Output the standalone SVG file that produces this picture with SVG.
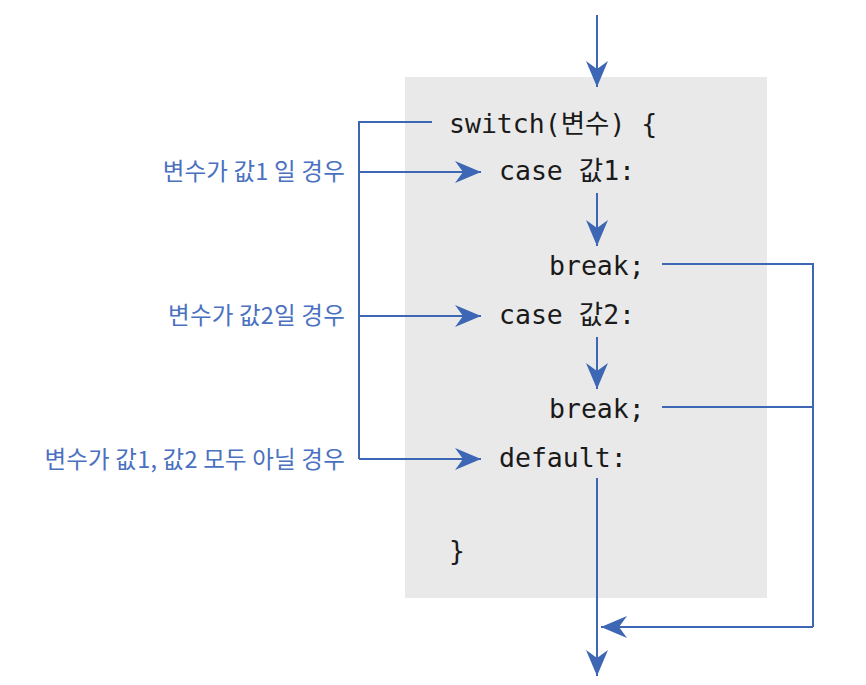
<svg xmlns="http://www.w3.org/2000/svg" width="866" height="685" viewBox="0 0 866 685">
<style>
.code{font-family:"DejaVu Sans Mono","Noto Sans CJK KR",monospace;font-size:26.5px;fill:#1a1a1a}
.lbl{font-family:"Noto Sans CJK KR","Noto Sans",sans-serif;font-size:23.5px;fill:#4a70c0;text-anchor:end;letter-spacing:0.2px}
.ln{fill:none;stroke:#3d66b5;stroke-width:2}
</style>
<defs>
<marker id="ah" markerUnits="userSpaceOnUse" markerWidth="30" markerHeight="24" refX="26" refY="11" orient="auto">
<path d="M0,0 L26,11 L0,22 L8,11 Z" fill="#3d66b5"/>
</marker>
</defs>
<rect x="405" y="77" width="362" height="521" fill="#e9e9e9"/>
<g id="switch"><text class="code" x="449" y="133">switch(변수) {</text></g>
<g id="case1"><text class="code" x="499" y="180">case 값1:</text></g>
<g id="break1"><text class="code" x="549" y="275">break;</text></g>
<g id="case2"><text class="code" x="499" y="324">case 값2:</text></g>
<g id="break2"><text class="code" x="549" y="418">break;</text></g>
<g id="default"><text class="code" x="499" y="467">default:</text></g>
<g id="close"><text class="code" x="449" y="560">}</text></g>
<g id="label1"><text class="lbl" x="345" y="180">변수가 값1 일 경우</text></g>
<g id="label2"><text class="lbl" x="345" y="324">변수가 값2일 경우</text></g>
<g id="label3"><text class="lbl" x="345" y="468">변수가 값1, 값2 모두 아닐 경우</text></g>
<g id="connectors">
<line class="ln" x1="597" y1="15" x2="597" y2="87" marker-end="url(#ah)"/>
<polyline class="ln" points="432,122 359,122 359,459"/>
<line class="ln" x1="359" y1="172" x2="481" y2="172" marker-end="url(#ah)"/>
<line class="ln" x1="359" y1="316" x2="481" y2="316" marker-end="url(#ah)"/>
<line class="ln" x1="359" y1="459" x2="481" y2="459" marker-end="url(#ah)"/>
<line class="ln" x1="597" y1="193" x2="597" y2="246" marker-end="url(#ah)"/>
<line class="ln" x1="597" y1="337" x2="597" y2="389" marker-end="url(#ah)"/>
<line class="ln" x1="597" y1="478" x2="597" y2="676" marker-end="url(#ah)"/>
<polyline class="ln" points="662,264 813,264 813,627"/>
<line class="ln" x1="662" y1="407" x2="813" y2="407"/>
<line class="ln" x1="813" y1="627" x2="601" y2="627" marker-end="url(#ah)"/>
</g>
</svg>
